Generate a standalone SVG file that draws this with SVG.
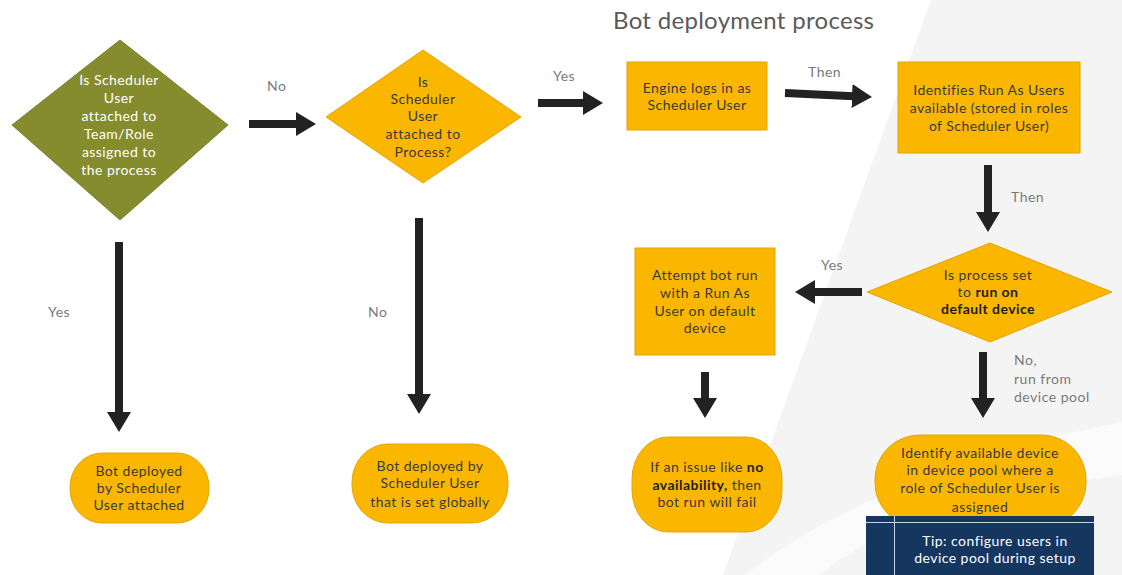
<svg xmlns="http://www.w3.org/2000/svg" width="1122" height="575" viewBox="0 0 1122 575">
<style>
.t{font-family:Lato,"Open Sans","Liberation Sans",sans-serif;font-size:14px;letter-spacing:0.45px;fill:#3a3a3a;text-anchor:middle}
.w{fill:#ffffff}
.lbl{font-family:Lato,"Open Sans","Liberation Sans",sans-serif;font-size:14px;letter-spacing:0.5px;fill:#7a7a7a}
.title{font-family:Lato,"Open Sans","Liberation Sans",sans-serif;font-size:24px;letter-spacing:0.3px;fill:#5a5a5a}
.b{font-weight:bold;fill:#1e1e1e}
.amber{fill:#fbb700;stroke:#e3a600;stroke-width:1}
.olive{fill:#858c2e;stroke:#7a8128;stroke-width:1}
.arr{stroke:#222;stroke-width:8;fill:none;marker-end:url(#ah)}
</style>
<defs>
<marker id="ah" viewBox="0 0 20 24" markerWidth="20" markerHeight="24" markerUnits="userSpaceOnUse" refX="2" refY="12" orient="auto">
<path d="M0,0 L20,12 L0,24 z" fill="#222"/>
</marker>
</defs>
<rect width="1122" height="575" fill="#ffffff"/>
<polygon points="931,0 1122,0 1122,575 723,575" fill="#f4f4f4"/>
<path d="M745,575 Q880,470 1122,422 L1122,475 Q900,505 820,575 Z" fill="#fbfbfb"/>
<text class="title" x="613" y="29">Bot deployment process</text>

<g id="connectors">
<line class="arr" x1="249" y1="124" x2="298" y2="124"/>
<line class="arr" x1="538" y1="103" x2="585" y2="103"/>
<line class="arr" x1="785" y1="93" x2="854" y2="96.2"/>
<line class="arr" x1="988" y1="165" x2="988" y2="214"/>
<line class="arr" x1="862" y1="292" x2="813" y2="292"/>
<line class="arr" x1="705" y1="372" x2="705" y2="400"/>
<line class="arr" x1="983" y1="352" x2="983" y2="400"/>
<line class="arr" x1="119" y1="242" x2="119" y2="414"/>
<line class="arr" x1="419" y1="218" x2="419" y2="396"/>
<text class="lbl" x="267" y="91">No</text>
<text class="lbl" x="553" y="81">Yes</text>
<text class="lbl" x="808" y="77">Then</text>
<text class="lbl" x="1011" y="202">Then</text>
<text class="lbl" x="821" y="270">Yes</text>
<text class="lbl" x="1014" y="365">No,</text>
<text class="lbl" x="1014" y="384">run from</text>
<text class="lbl" x="1014" y="402">device pool</text>
<text class="lbl" x="48" y="317">Yes</text>
<text class="lbl" x="368" y="317">No</text>
</g>

<g id="d1">
<polygon class="olive" points="120,40 228,125 120,220 12,125"/>
<text class="t w" x="119" y="85">Is Scheduler</text>
<text class="t w" x="119" y="103">User</text>
<text class="t w" x="119" y="121">attached to</text>
<text class="t w" x="119" y="139">Team/Role</text>
<text class="t w" x="119" y="157">assigned to</text>
<text class="t w" x="119" y="175">the process</text>
</g>

<g id="d2">
<polygon class="amber" points="423,50 521,117 423,183 326,117"/>
<text class="t" x="423" y="87">Is</text>
<text class="t" x="423" y="104">Scheduler</text>
<text class="t" x="423" y="121">User</text>
<text class="t" x="423" y="139">attached to</text>
<text class="t" x="423" y="157">Process?</text>
</g>

<g id="b1">
<rect class="amber" x="627" y="62" width="140" height="68"/>
<text class="t" x="697" y="93">Engine logs in as</text>
<text class="t" x="697" y="110">Scheduler User</text>
</g>

<g id="b2">
<rect class="amber" x="898" y="62" width="182" height="91"/>
<text class="t" x="989" y="95">Identifies Run As Users</text>
<text class="t" x="989" y="113">available (stored in roles</text>
<text class="t" x="989" y="131">of Scheduler User)</text>
</g>

<g id="d3">
<polygon class="amber" points="990,243 1112,292 990,342 867,292"/>
<text class="t" x="988" y="280">Is process set</text>
<text class="t" x="988" y="297">to <tspan class="b">run on</tspan></text>
<text class="t b" x="988" y="314">default device</text>
</g>

<g id="b3">
<rect class="amber" x="635" y="248" width="140" height="107"/>
<text class="t" x="705" y="280">Attempt bot run</text>
<text class="t" x="705" y="298">with a Run As</text>
<text class="t" x="705" y="316">User on default</text>
<text class="t" x="705" y="333">device</text>
</g>

<g id="p3">
<rect class="amber" x="632" y="437" width="150" height="95" rx="36" ry="42"/>
<text class="t" x="707" y="472">If an issue like <tspan class="b">no</tspan></text>
<text class="t" x="707" y="490"><tspan class="b">availability,</tspan> then</text>
<text class="t" x="707" y="507">bot run will fail</text>
</g>

<g id="p4">
<rect class="amber" x="875" y="435" width="211" height="92" rx="45" ry="44"/>
<text class="t" x="980" y="458">Identify available device</text>
<text class="t" x="980" y="475">in device pool where a</text>
<text class="t" x="980" y="493">role of Scheduler User is</text>
<text class="t" x="980" y="512">assigned</text>
</g>

<g id="tip">
<rect x="866" y="516" width="228" height="59" fill="#14365f"/>
<line x1="866" y1="522.5" x2="1094" y2="522.5" stroke="#c9d2de" stroke-width="1"/>
<line x1="894.5" y1="516" x2="894.5" y2="575" stroke="#c9d2de" stroke-width="1"/>
<text class="t w" x="995" y="546">Tip: configure users in</text>
<text class="t w" x="995" y="563">device pool during setup</text>
</g>

<g id="p1">
<rect class="amber" x="70" y="453" width="139" height="70" rx="32" ry="34"/>
<text class="t" x="139" y="476">Bot deployed</text>
<text class="t" x="139" y="493">by Scheduler</text>
<text class="t" x="139" y="510">User attached</text>
</g>

<g id="p2">
<rect class="amber" x="352" y="444" width="156" height="79" rx="36" ry="38"/>
<text class="t" x="430" y="471">Bot deployed by</text>
<text class="t" x="430" y="488">Scheduler User</text>
<text class="t" x="430" y="507">that is set globally</text>
</g>
</svg>
